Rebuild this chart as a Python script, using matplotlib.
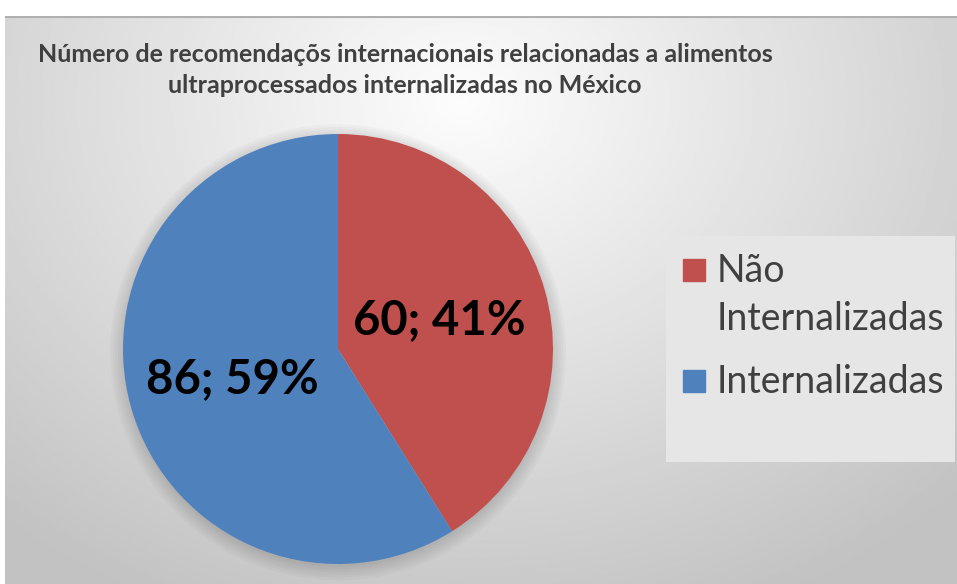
import numpy as np
import matplotlib.pyplot as plt
from matplotlib.patches import Rectangle, Circle

# data
labels = ['Não\nInternalizadas', 'Internalizadas']
values = [60, 86]
colors = ['#C0504D', '#4F81BD']
label_dist = [0.49, 0.51]

title = ('Número de recomendaçõs internacionais relacionadas a alimentos\n'
         'ultraprocessados internalizadas no México')

FONT = ['Lato', 'DejaVu Sans']
W, H = 957, 584
fig = plt.figure(figsize=(W / 100, H / 100), dpi=100)
fig.patch.set_facecolor('white')

# chart area background with radial gradient
bg = fig.add_axes([5 / W, 0, (W - 5) / W, (H - 16) / H])
yy, xx = np.mgrid[0:1:300j, 0:1:500j]
r = np.sqrt(((xx - 0.48) * 1.2) ** 2 + ((yy - 0.15) * 0.9) ** 2)
shade = np.clip(0.99 - 0.26 * r, 0.76, 1.0)
bg.imshow(shade, cmap='gray', vmin=0, vmax=1, extent=[0, 1, 0, 1],
          origin='upper', aspect='auto')
bg.plot([0, 1], [0.999, 0.999], color='#b0b0b0', lw=1.5)
bg.set_xlim(0, 1)
bg.set_ylim(0, 1)
bg.axis('off')

fig.text(405 / W, 1 - 70 / H, title, ha='center', va='center',
         fontsize=18, fontweight='bold', color='#404040',
         family=FONT, linespacing=1.45)

# pie
ax = fig.add_axes([(123 - 21.5) / W, (20 - 21.5) / H, 473 / W, 473 / H])
# soft shadow
for k in range(6):
    ax.add_patch(Circle((0, -0.015), 1.0 + 0.012 * k, color='black',
                        alpha=0.025, lw=0, zorder=0))
wedges, texts, autotexts = ax.pie(
    values, colors=colors, startangle=90, counterclock=False,
    autopct=lambda p: '%d; %d%%' % (round(p * sum(values) / 100), round(p)),
    pctdistance=0.5, radius=1,
    wedgeprops=dict(zorder=2),
    textprops=dict(fontsize=34, fontweight='bold', color='black', family=FONT))
for w, t, d in zip(wedges, autotexts, label_dist):
    ang = np.deg2rad((w.theta1 + w.theta2) / 2)
    t.set_position((d * np.cos(ang), d * np.sin(ang)))
    t.set_zorder(3)
ax.set_xlim(-1.1, 1.1)
ax.set_ylim(-1.1, 1.1)
ax.set_aspect('equal')
ax.axis('off')

# legend box (pixel-like coordinates inside the box)
lax = fig.add_axes([666 / W, 1 - 462 / H, 289 / W, 226 / H])
lax.set_facecolor('#e6e6e6')
for s in lax.spines.values():
    s.set_visible(False)
lax.set_xticks([])
lax.set_yticks([])
lax.set_xlim(0, 289)
lax.set_ylim(226, 0)
baseline = 282 - 236
for lab, c in zip(labels, colors):
    lax.add_patch(Rectangle((17, baseline - 23), 22, 22, color=c))
    for i, line in enumerate(lab.split('\n')):
        lax.text(51, baseline + i * 48, line, va='baseline', ha='left',
                 fontsize=27, color='#404040', family=FONT)
    baseline += (lab.count('\n')) * 48 + 63

fig.savefig('out.png', dpi=100)
